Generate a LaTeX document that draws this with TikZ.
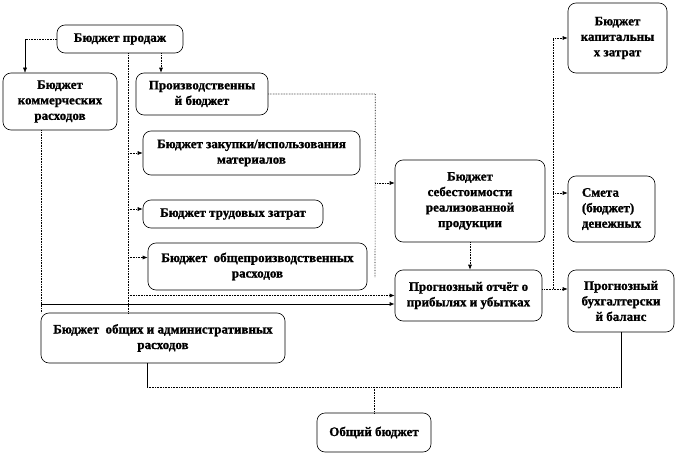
\documentclass[tikz,border=0pt]{standalone}
\usepackage{fontspec}
\setmainfont{Liberation Serif}[BoldFeatures = {FakeBold = 1.2}]
\usetikzlibrary{arrows.meta}

\begin{document}
\begin{tikzpicture}[x = 1pt, y = -1pt,
        block/.style = {draw, line width = 0.6pt, rounded corners = 8pt, align = center, inner sep = 0pt,
            font = \bfseries\fontsize{13}{15.5}\selectfont},
        link/.style = {densely dotted, line width = 0.6pt},
        tip/.style = {-{Latex[length = 5pt, width = 4pt]}}]
        \useasboundingbox (0,0) rectangle (678,455);

        \node (sales) at (120, 39) [block, minimum width = 126pt, minimum height = 28pt] {Бюджет продаж};
        \node (selling) at (60, 101.5) [block, minimum width = 114pt, minimum height = 57pt] {Бюджет\\коммерческих\\расходов};
        \node (production) at (202, 94) [block, minimum width = 132pt, minimum height = 42pt] {Производственны\\й бюджет};
        \node (materials) at (251.5, 153) [block, minimum width = 217pt, minimum height = 44pt] {Бюджет закупки/использования\\материалов};
        \node (labor) at (233, 214) [block, minimum width = 180pt, minimum height = 28pt] {Бюджет трудовых затрат};
        \node (overhead) at (257.5, 266.5) [block, minimum width = 219pt, minimum height = 47pt] {Бюджет~ общепроизводственных\\расходов};
        \node (cost) at (470, 201) [block, minimum width = 150pt, minimum height = 82pt] {Бюджет\\себестоимости\\реализованной\\продукции};
        \node (capital) at (617.5, 38) [block, minimum width = 99pt, minimum height = 70pt] {Бюджет\\капитальны\\х затрат};
        \node (cash) at (611.5, 209) [block, align = left, minimum width = 87pt, minimum height = 66pt] {Смета\\(бюджет)\\денежных};
        \node (income) at (468.5, 295.5) [block, minimum width = 147pt, minimum height = 51pt] {Прогнозный отчёт о\\прибылях и убытках};
        \node (balance) at (621, 301) [block, minimum width = 106pt, minimum height = 62pt] {Прогнозный\\бухгалтерски\\й баланс};
        \node (admin) at (163, 338) [block, minimum width = 244pt, minimum height = 50pt] {Бюджет~ общих и административных\\расходов};
        \node (total) at (374, 432.5) [block, minimum width = 114pt, minimum height = 39pt] {Общий бюджет};

        \coordinate (sellingIn) at ([xshift = -35pt]selling.north);
        \coordinate (salesBus) at ([xshift = 8pt]sales.south);
        \coordinate (sellingBus) at ([xshift = -19pt]selling.south);
        \coordinate (prodBus) at ([xshift = 107pt]production.east);
        \coordinate (prodEnd) at (375, 277);
        \coordinate (laborIn) at ([yshift = 5pt]labor.west);
        \coordinate (overheadIn) at ([yshift = 9pt]overhead.west);
        \coordinate (costIn) at ([yshift = 18pt]cost.west);
        \coordinate (cashIn) at ([yshift = 16pt]cash.west);
        \coordinate (balanceIn) at ([yshift = 12pt]balance.west);
        \coordinate (incomeOut) at ([yshift = 6.5pt]income.east);
        \coordinate (incomeIn) at ([yshift = -8.5pt]income.west);
        \coordinate (rightBus) at ([xshift = 11pt]incomeOut);
        \coordinate (adminOut) at ([xshift = -16pt]admin.south);
        \coordinate (join) at (374, 387);

        \draw [link] (sales.west) -- (sales.west -| sellingIn);
        \draw [tip] (sales.west -| sellingIn) -- (sellingIn);
        \draw [link, tip] ([xshift = 41pt]sales.south) -- ([xshift = -41pt]production.north);

        \draw [link] (salesBus) -- (salesBus |- admin.north);
        \draw [link, tip] (salesBus |- materials.west) -- (materials.west);
        \draw [link, tip] (salesBus |- laborIn) -- (laborIn);
        \draw [link, tip] (salesBus |- overheadIn) -- (overheadIn);
        \draw [link, tip] (salesBus |- income.west) -- (income.west);

        \draw [link] (sellingBus) -- (sellingBus |- admin.north);
        \draw [line width = 0.9pt, tip] (sellingBus |- incomeIn) -- (incomeIn);

        \draw [link] (production.east) -- (prodBus) -- (prodEnd);
        \draw [link, tip] (prodBus |- costIn) -- (costIn);
        \draw [link, tip] (cost.south) -- (cost.south |- income.north);

        \draw [link, tip] (incomeOut) -- (balanceIn);
        \draw [link] (rightBus) -- (rightBus |- capital.west);
        \draw [link, tip] (rightBus |- capital.west) -- (capital.west);
        \draw [link, tip] (rightBus |- cashIn) -- (cashIn);

        \draw (adminOut) -- (adminOut |- join);
        \draw [link] (adminOut |- join) -- (balance.south |- join);
        \draw (balance.south) -- (balance.south |- join);
        \draw [link] (join) -- (total.north);
    \end{tikzpicture}
\end{document}
